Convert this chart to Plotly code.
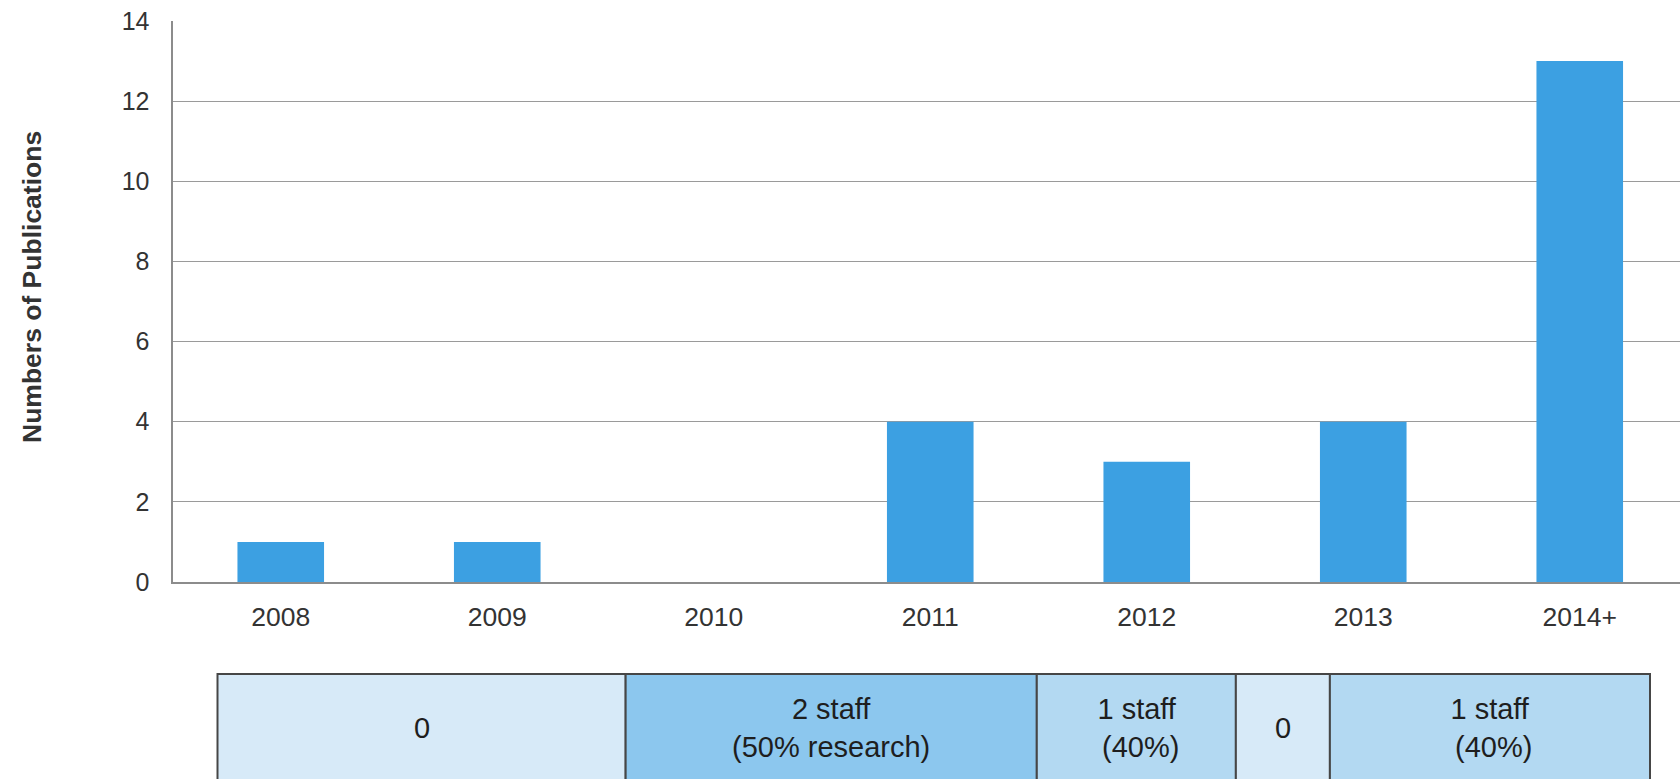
import plotly.graph_objects as go

# ---- data ----
years = ["2008", "2009", "2010", "2011", "2012", "2013", "2014+"]
publications = [1, 1, 0, 4, 3, 4, 13]
y_ticks = [0, 2, 4, 6, 8, 10, 12, 14]

table_labels = ["0", "2 staff<br>(50% research)", "1 staff<br>\u00a0(40%)", "0", "1 staff<br>\u00a0(40%)"]
table_widths = [408, 411, 199, 94, 320]
table_colors = ["#d7eaf8", "#8cc7ee", "#b3d9f2", "#d7eaf8", "#b3d9f2"]

W, H = 1680, 779
FONT = "Liberation Sans, Arial, sans-serif"

fig = go.Figure()
fig.add_trace(go.Bar(
    x=years, y=publications, marker=dict(color="#3ca0e2", line=dict(width=0)),
    xaxis="x", yaxis="y", showlegend=False, hoverinfo="x+y"))

# table axes placement (pixels)
tbl_left, tbl_right = 217.5, 1650
tbl_top = 674
pad = 2
total = sum(table_widths)

layout_shapes = []
annotations = []
x0 = 0
for lab, w, c in zip(table_labels, table_widths, table_colors):
    layout_shapes.append(dict(type="rect", xref="x2", yref="y2", x0=x0, x1=x0 + w,
                              y0=-140, y1=0, fillcolor=c,
                              line=dict(color="#464646", width=2), layer="above"))
    annotations.append(dict(xref="x2", yref="y2", x=x0 + w / 2, y=-54, text=lab,
                            showarrow=False, font=dict(family=FONT, size=29, color="#1e1e1e"),
                            align="center", yanchor="middle", xanchor="center"))
    x0 += w

annotations.append(dict(xref="paper", yref="paper", x=32 / W, y=1 - 287 / H,
                        text="<b>Numbers of Publications</b>", textangle=-90,
                        showarrow=False, xanchor="center", yanchor="middle",
                        font=dict(family=FONT, size=26.5, color="#333333")))

plot_left, plot_top, plot_bottom = 172.5, 21, 582
cat_px = 216.5  # category slot width in pixels (plot continues past the right edge)
x_range_end = -0.5 + (W - plot_left) / cat_px

fig.update_layout(
    width=W, height=H,
    margin=dict(l=0, r=0, t=0, b=0, autoexpand=False),
    paper_bgcolor="white", plot_bgcolor="white",
    bargap=0.6,
    font=dict(family=FONT, color="#333333"),
    xaxis=dict(domain=[plot_left / W, 1], anchor="y", type="category", automargin=False,
               range=[-0.5, x_range_end],
               showgrid=False, showline=True, linecolor="#8c8c8c", linewidth=2,
               ticks="", ticklabelstandoff=10,
               tickfont=dict(family=FONT, size=26.5, color="#333333"), zeroline=False),
    yaxis=dict(domain=[1 - plot_bottom / H, 1 - plot_top / H], anchor="x", automargin=False,
               range=[0, 14], tickvals=y_ticks, showgrid=True, gridcolor="#9a9a9a",
               gridwidth=1.3, showline=True, linecolor="#8c8c8c", linewidth=2,
               ticks="", ticklabelstandoff=16, zeroline=False,
               tickfont=dict(family=FONT, size=25, color="#333333")),
    xaxis2=dict(domain=[(tbl_left - pad) / W, (tbl_right + pad) / W], anchor="y2",
                automargin=False, range=[-pad, total + pad], visible=False, fixedrange=True),
    yaxis2=dict(domain=[0, (H - tbl_top + pad) / H], anchor="x2", automargin=False,
                range=[-(H - tbl_top), pad], visible=False, fixedrange=True),
    shapes=layout_shapes,
    annotations=annotations,
)

fig.write_html("out.html", config={"displayModeBar": False},
               post_script="document.body.style.margin='0';document.body.style.overflow='hidden';")
